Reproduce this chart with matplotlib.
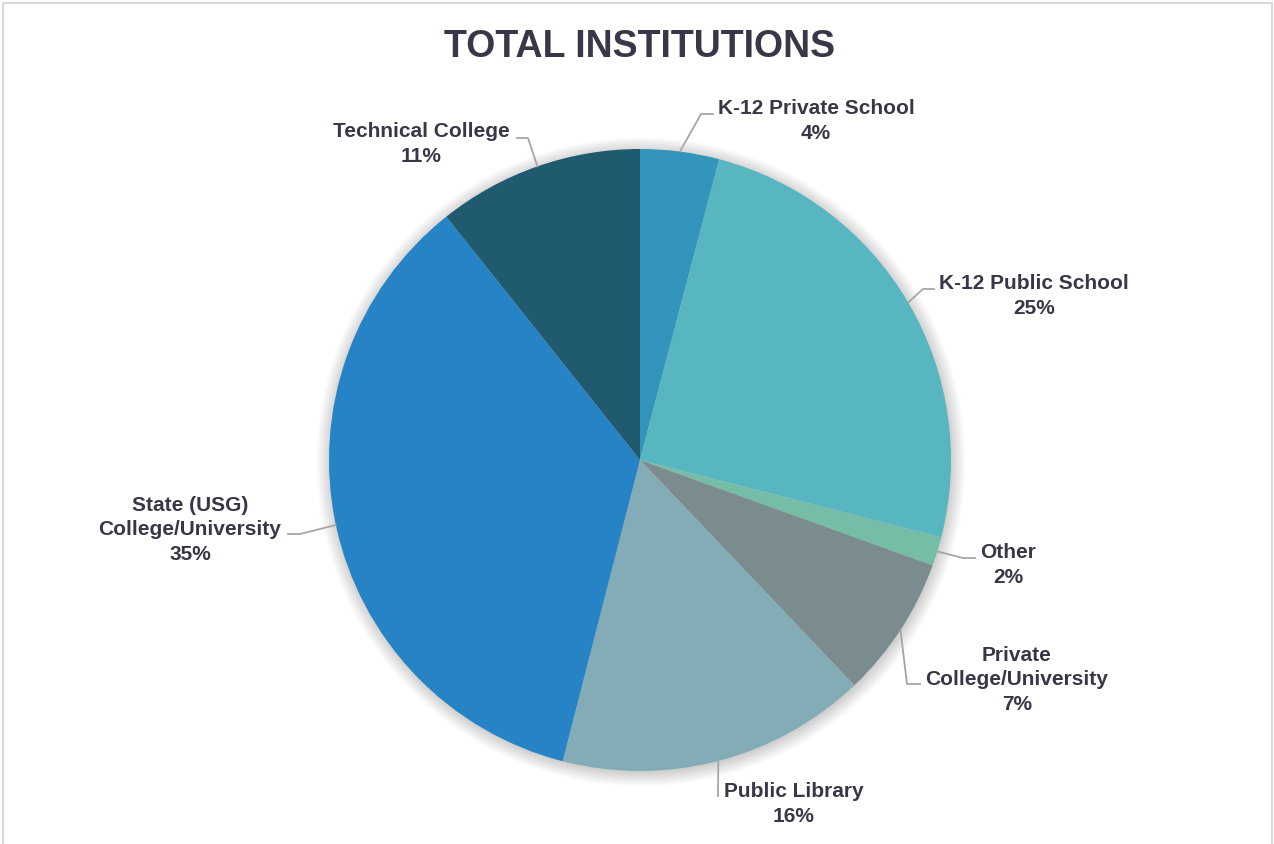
import numpy as np
import matplotlib
matplotlib.use("Agg")
import matplotlib.pyplot as plt
from matplotlib.patches import Rectangle, Circle

plt.rcParams['font.family'] = ['Liberation Sans', 'DejaVu Sans']

# data (share of institutions, %)
categories = ["K-12 Private School", "K-12 Public School", "Other",
              "Private\nCollege/University", "Public Library",
              "State (USG)\nCollege/University", "Technical College"]
shares = [4.1, 24.9, 1.5, 7.4, 16.1, 35.3, 10.7]
pct_labels = ["4%", "25%", "2%", "7%", "16%", "35%", "11%"]
colors = ["#3394BC", "#58B6C0", "#75BDA7", "#7A8C8E", "#84ACB6", "#2683C6", "#1F5A6E"]

W, H = 1274, 845
CX, CY, R = 640, 461, 311
TEXT = "#383747"
LEADER = "#A6A6A6"

# label layout in pixels: (text centre x, text centre y, elbow, end of leader)
layout = [
    (816, 121, (701, 115), (713, 115)),
    (1034, 296, (923, 290), (934, 290)),
    (1008, 565, (963, 559), (975, 559)),
    (1017, 680, (907, 685), (920, 685)),
    (794, 804, (718, 797), (718, 797)),
    (190, 530, (300, 535), (288, 535)),
    (421, 144, (528, 139), (517, 139)),
]


def px(x, y):
    return (x - CX) / R, (CY - y) / R


fig = plt.figure(figsize=(W / 100, H / 100), dpi=100)
fig.patch.set_facecolor("white")
fig.patches.append(Rectangle((3 / W, -0.02), 1269 / W, (H - 4) / H + 0.02,
                             transform=fig.transFigure, fill=False,
                             edgecolor="#D9D9D9", linewidth=1.5))

ax = fig.add_axes([(CX - R) / W, (H - CY - R) / H, 2 * R / W, 2 * R / H])
ax.set_axis_off()

# soft shadow behind the pie
for k in range(8):
    ax.add_patch(Circle((0.003, -0.006), 1.0 + 0.006 * k, color="black",
                        alpha=0.022, lw=0, zorder=0, clip_on=False))

wedges, _ = ax.pie(shares, colors=colors, startangle=90, counterclock=False,
                   radius=1.0, wedgeprops=dict(linewidth=0, zorder=1))
ax.set_xlim(-1, 1)
ax.set_ylim(-1, 1)

for w, name, pct, (tx, ty, elbow, end) in zip(wedges, categories, pct_labels, layout):
    mid = np.deg2rad((w.theta1 + w.theta2) / 2)
    sx, sy = np.cos(mid), np.sin(mid)
    ex, ey = px(*elbow)
    fx, fy = px(*end)
    ax.plot([sx, ex, fx], [sy, ey, fy], color=LEADER, lw=1.3, clip_on=False, zorder=2)
    lx, ly = px(tx, ty)
    ax.text(lx, ly, name + "\n" + pct, ha="center", va="center", fontsize=15,
            fontweight="bold", color=TEXT, linespacing=1.38, clip_on=False)

fig.text(640 / W, 1 - 47 / H, "TOTAL INSTITUTIONS", ha="center", va="center",
         fontsize=27, fontweight="bold", color=TEXT)

fig.savefig("out.png", dpi=100)
